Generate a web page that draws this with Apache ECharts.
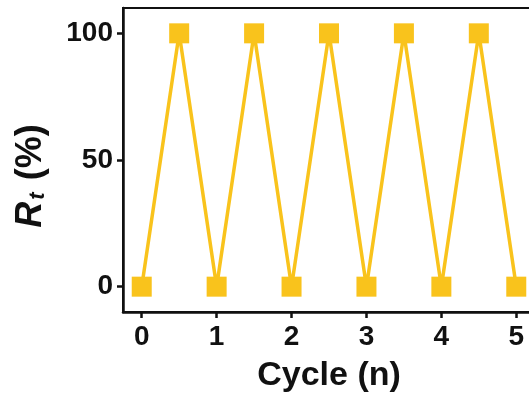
<!DOCTYPE html>
<html><head><meta charset="utf-8">
<script src="https://cdn.jsdelivr.net/npm/echarts@6/dist/echarts.min.js"></script>
<style>html,body{margin:0;padding:0;background:#fff}#c{width:529px;height:396px}</style>
</head><body><div id="c"></div>
<script>
const cycles = [0, 0.5, 1, 1.5, 2, 2.5, 3, 3.5, 4, 4.5, 5];
const rt = [0, 100, 0, 100, 0, 100, 0, 100, 0, 100, 0];
const xTicks = [0, 1, 2, 3, 4, 5];
const yTicks = [0, 50, 100];
const xTitle = 'Cycle (n)';

const chart = echarts.init(document.getElementById('c'), null, {renderer: 'canvas'});
const font = 'Liberation Sans, Arial, sans-serif';
chart.setOption({
  animation: false,
  grid: {left: 123, top: 8, width: 412, height: 304, outerBoundsMode: 'none', containLabel: false, show: true, borderColor: '#111', borderWidth: 2, backgroundColor: 'transparent'},
  xAxis: {
    type: 'value', min: -0.25, max: 5.25,
    splitLine: {show: false},
    axisLine: {onZero: false, lineStyle: {color: '#111', width: 2.5}},
    axisTick: {show: true, length: 6, lineStyle: {color: '#111', width: 2.5}, customValues: xTicks},
    axisLabel: {customValues: xTicks, color: '#111', fontSize: 28, fontWeight: 'bold', fontFamily: font, margin: 11},
    name: xTitle, nameLocation: 'middle', nameGap: 47,
    nameTextStyle: {color: '#111', fontSize: 34, fontWeight: 'bold', fontFamily: font}
  },
  yAxis: {
    type: 'value', min: -10, max: 110,
    splitLine: {show: false},
    axisLine: {show: true, onZero: false, lineStyle: {color: '#111', width: 2.5}},
    axisTick: {show: true, length: 6, lineStyle: {color: '#111', width: 2.5}, customValues: yTicks},
    axisLabel: {customValues: yTicks, color: '#111', fontSize: 28, fontWeight: 'bold', fontFamily: font, margin: 10}
  },
  graphic: [{
    type: 'text', x: 31, y: 176, rotation: Math.PI / 2,
    style: {
      text: '{r|R}{s|t}{n| (%)}',
      align: 'center', verticalAlign: 'middle',
      rich: {
        r: {fontSize: 36, fontWeight: 'bold', fontStyle: 'italic', fontFamily: font, fill: '#111'},
        s: {fontSize: 22, fontWeight: 'bold', fontStyle: 'italic', fontFamily: font, fill: '#111', verticalAlign: 'bottom', padding: [12,2,0,2]},
        n: {fontSize: 36, fontWeight: 'bold', fontFamily: font, fill: '#111'}
      }
    }
  }],
  series: [{
    type: 'line',
    data: cycles.map((c, i) => [c, rt[i]]),
    symbol: 'rect', symbolSize: 20,
    lineStyle: {color: '#F9C31C', width: 3.5},
    itemStyle: {color: '#F9C31C'},
    clip: false
  }]
});
</script></body></html>
